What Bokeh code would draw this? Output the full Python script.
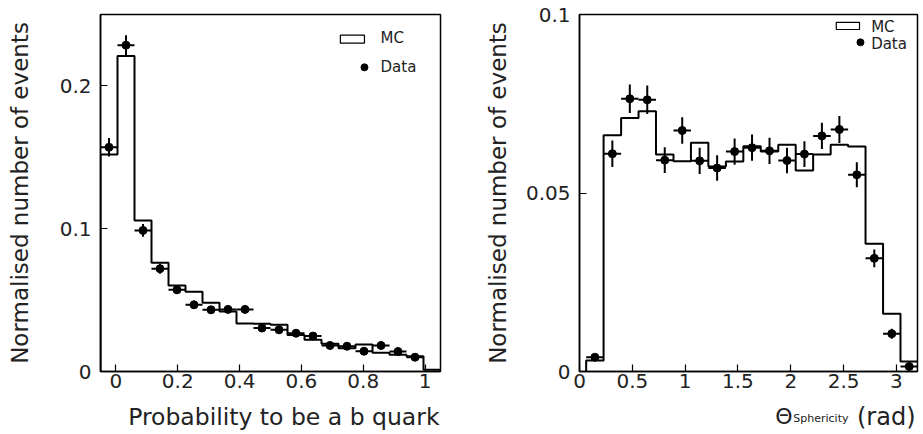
import numpy as np
from bokeh.plotting import figure
from bokeh.models import Range1d, FixedTicker, Label
from bokeh.layouts import row, column
from bokeh.core.properties import value
from bokeh.embed import file_html
from bokeh.resources import INLINE

# ---------------- data: left panel (b-tag probability) ----------------
b_edges = [-0.05, 0.005, 0.06, 0.115, 0.17, 0.225, 0.28, 0.335, 0.39, 0.445, 0.5,
           0.555, 0.61, 0.665, 0.72, 0.775, 0.83, 0.885, 0.94, 0.995, 1.05]
b_mc = [0.152, 0.221, 0.1058, 0.0762, 0.0603, 0.0558, 0.0482, 0.042, 0.0336, 0.0334,
        0.0328, 0.0255, 0.0222, 0.0194, 0.0163, 0.0189, 0.0131, 0.0117, 0.0107, 0.0012]
b_data = [0.157, 0.2285, 0.0988, 0.072, 0.0572, 0.0467, 0.0432, 0.0435, 0.0435, 0.0304,
          0.0292, 0.0268, 0.0248, 0.0182, 0.0177, 0.0142, 0.0182, 0.014, 0.010]
b_err = [0.0065, 0.007, 0.0045, 0.0035, 0.003, 0.0028, 0.0026, 0.0026, 0.0026, 0.0022,
         0.0022, 0.002, 0.002, 0.0018, 0.0017, 0.0016, 0.0017, 0.0016, 0.0014]
b_xticks = [0, 0.2, 0.4, 0.6, 0.8, 1]
b_xlabels = ["0", "0.2", "0.4", "0.6", "0.8", "1"]
b_yticks = [0, 0.1, 0.2]
b_ylabels = ["0", "0.1", "0.2"]
b_xtitle = "Probability to be a b quark"

# ---------------- data: right panel (sphericity angle) ----------------
s_edges = [0.063, 0.228, 0.394, 0.559, 0.724, 0.890, 1.055, 1.220, 1.386, 1.551,
           1.716, 1.882, 2.047, 2.212, 2.378, 2.543, 2.708, 2.874, 3.039, 3.204]
s_mc = [0.0031, 0.0662, 0.0710, 0.0729, 0.0608, 0.0589, 0.0641, 0.0574, 0.0588, 0.0631,
        0.0616, 0.0635, 0.0563, 0.0608, 0.0635, 0.0630, 0.0358, 0.0162, 0.0028]
s_data = [0.0040, 0.0610, 0.0764, 0.0761, 0.0592, 0.0675, 0.0590, 0.0570, 0.0616, 0.0627,
          0.0618, 0.0591, 0.0609, 0.0660, 0.0678, 0.0551, 0.0317, 0.0106, 0.0014]
s_err = [0.0006, 0.0037, 0.0040, 0.0040, 0.0036, 0.0037, 0.0037, 0.0036, 0.0037, 0.0037,
         0.0037, 0.0036, 0.0036, 0.0037, 0.0038, 0.0035, 0.0025, 0.0014, 0.0004]
s_xticks = [0, 0.5, 1, 1.5, 2, 2.5, 3]
s_xlabels = ["0", "0.5", "1", "1.5", "2", "2.5", "3"]
s_yticks = [0, 0.05, 0.1]
s_ylabels = ["0", "0.05", "0.1"]
s_xtitle = ["Θ", "Sphericity", "(rad)"]

ylabel_text = "Normalised number of events"
legend_mc = "MC"
legend_data = "Data"

# ---------------- style ----------------
FONT = "DejaVu Sans"
TXT = "#222222"
MAIN_H = 405
STRIP_H = 434 - MAIN_H
BASE = 18  # vertical anchor of x titles inside the bottom strip


def step_xy(edges, vals):
    e = np.asarray(edges, dtype=float)
    v = np.asarray(vals, dtype=float)
    xs = np.repeat(e, 2)
    ys = np.concatenate([[0.0], np.repeat(v, 2), [0.0]])
    return xs, ys


def make_fig(width, bl, br, xr, yr, xt, xl, yt, yl, ystand):
    p = figure(width=width, height=MAIN_H, x_range=Range1d(*xr), y_range=Range1d(*yr),
               output_backend="svg", toolbar_location=None, title=None,
               min_border_left=bl, min_border_right=br,
               min_border_top=14, min_border_bottom=MAIN_H - 14 - 357)
    p.grid.visible = False
    p.outline_line_color = "black"
    p.outline_line_width = 1.5
    p.background_fill_color = "white"
    p.border_fill_color = "white"
    for ax, ticks, labels in ((p.xaxis[0], xt, xl), (p.yaxis[0], yt, yl)):
        ax.ticker = FixedTicker(ticks=ticks)
        ax.major_label_overrides = {t: s for t, s in zip(ticks, labels)}
        ax.major_tick_in = 7
        ax.major_tick_out = 0
        ax.minor_tick_line_color = None
        ax.axis_line_width = 1.5
        ax.major_tick_line_width = 1.2
        ax.major_label_text_font = FONT
        ax.major_label_text_font_size = "20px"
        ax.major_label_text_color = TXT
    p.xaxis.major_label_standoff = 2
    p.yaxis.major_label_standoff = 9
    p.yaxis.axis_label = ylabel_text
    p.yaxis.axis_label_text_font = FONT
    p.yaxis.axis_label_text_font_size = "23px"
    p.yaxis.axis_label_text_font_style = "normal"
    p.yaxis.axis_label_text_color = TXT
    p.yaxis.axis_label_standoff = ystand
    return p


def make_strip(width, bl, br, xr):
    s = figure(width=width, height=STRIP_H, x_range=xr, y_range=Range1d(0, STRIP_H),
               output_backend="svg", toolbar_location=None, title=None,
               x_axis_location=None, y_axis_location=None,
               min_border_left=bl, min_border_right=br, min_border_top=0, min_border_bottom=0)
    s.grid.visible = False
    s.outline_line_color = None
    s.background_fill_color = "white"
    s.border_fill_color = "white"
    return s


def draw_hist(p, edges, mc, data, err):
    xs, ys = step_xy(edges, mc)
    p.line(xs, ys, line_color="black", line_width=2)
    e = np.asarray(edges, dtype=float)
    n = len(data)
    lo, hi = e[:n], e[1:n + 1]
    xc = (lo + hi) / 2
    d = np.asarray(data)
    er = np.asarray(err)
    p.segment(x0=lo, y0=d, x1=hi, y1=d, line_color="black", line_width=2)
    p.segment(x0=xc, y0=d - er, x1=xc, y1=d + er, line_color="black", line_width=2)
    p.scatter(xc, d, size=8, color="black")


def draw_legend(p, box, dot, txt_x, y_mc, y_data, size):
    p.quad(left=[box[0]], right=[box[1]], bottom=[box[2]], top=[box[3]],
           fill_color="white", line_color="black", line_width=1.2)
    p.scatter([dot[0]], [dot[1]], size=7, color="black")
    for t, y in ((legend_mc, y_mc), (legend_data, y_data)):
        p.add_layout(Label(x=txt_x, y=y, text=t, text_font=FONT, text_font_size=size,
                           text_color=TXT, text_baseline="middle", text_align="left"))


# ---------------- left figure ----------------
p1 = make_fig(460, 100, 20, (-0.05, 1.05), (0, 0.25),
              b_xticks, b_xlabels, b_yticks, b_ylabels, 24)
draw_hist(p1, b_edges, b_mc, b_data, b_err)
draw_legend(p1, (0.726, 0.804, 0.2299, 0.2355), (0.804, 0.213), 0.856, 0.2334, 0.213, "15px")
s1 = make_strip(460, 100, 20, p1.x_range)
s1.text(x=[1.05], y=[BASE], x_offset=-1, text=[b_xtitle], text_font=value(FONT),
        text_font_size="23.5px", text_color=TXT, text_align="right",
        text_baseline="alphabetic")

# ---------------- right figure ----------------
p2 = make_fig(463, 119, 6, (0, 3.2), (0, 0.1),
              s_xticks, s_xlabels, s_yticks, s_ylabels, 12)
draw_hist(p2, s_edges, s_mc, s_data, s_err)
draw_legend(p2, (2.431, 2.651, 0.0958, 0.0978), (2.660, 0.0922), 2.761, 0.0966, 0.0916, "15px")
s2 = make_strip(463, 119, 6, p2.x_range)
s2.text(x=[3.2], y=[BASE], x_offset=-2, text=[s_xtitle[2]], text_font=value(FONT),
        text_font_size="24px", text_color=TXT, text_align="right", text_baseline="alphabetic")
s2.text(x=[3.2], y=[BASE - 2], x_offset=-69, text=[s_xtitle[1]], text_font=value(FONT),
        text_font_size="11px", text_color=TXT, text_align="right", text_baseline="alphabetic")
s2.text(x=[3.2], y=[BASE], x_offset=-125, text=[s_xtitle[0]], text_font=value(FONT),
        text_font_size="22px", text_color=TXT, text_align="right", text_baseline="alphabetic")

layout = column(row(p1, p2), row(s1, s2))
open("out.html", "w").write(file_html(layout, INLINE))
